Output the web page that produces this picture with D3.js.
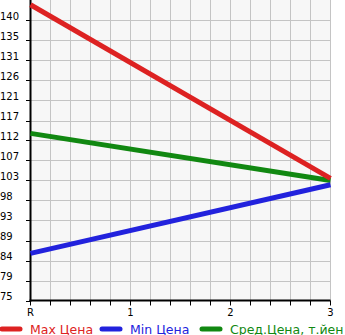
<!DOCTYPE html>
<html>
<head>
<meta charset="utf-8">
<script src="https://cdn.jsdelivr.net/npm/d3@7"></script>
<style>
  body { margin: 0; background: #fff; }
  svg { display: block; font-family: "DejaVu Sans", Verdana, sans-serif; }
</style>
</head>
<body>
<div id="chart"></div>
<script>
(function(){

  var width = 345, height = 335;

  // data
  var categories = ["R", "1", "2", "3"];
  var xPositions = [0, 3];          // data points at R and 3
  var maxPrice = [144, 103.5];
  var minPrice = [86, 102];
  var avgPrice = [114, 103];
  var yMin = 75, yMax = 145;
  var legendLabels = ["Max Цена", "Min Цена", "Сред.Цена, т.йен"];
  var colors = ["#dd2222", "#2222dd", "#118811"];

  var x = d3.scaleLinear().domain([0, 3]).range([30.5, 330.5]);
  var y = d3.scaleLinear().domain([yMin, yMax]).range([300.5, 0.5]);

  var svg = d3.select("#chart").append("svg")
      .attr("width", width)
      .attr("height", height);

  // plot background
  svg.append("rect")
      .attr("x", x(0)).attr("y", 0)
      .attr("width", x(3) - x(0)).attr("height", y(yMin))
      .attr("fill", "#f7f7f7");

  // grid
  var yStep = (yMax - yMin) / 15;
  var yTicks = d3.range(0, 15).map(function(i){ return yMin + i * yStep; });
  var xTicks = d3.range(0, 16).map(function(i){ return i / 5; });

  svg.append("g").selectAll("line")
      .data(yTicks.slice(1))
    .enter().append("line")
      .attr("x1", x(0)).attr("x2", x(3))
      .attr("y1", function(d){ return Math.round(y(d)) + 0.5; })
      .attr("y2", function(d){ return Math.round(y(d)) + 0.5; })
      .attr("stroke", "#c4c4c4");

  svg.append("g").selectAll("line")
      .data(xTicks.slice(1))
    .enter().append("line")
      .attr("y1", 0).attr("y2", y(yMin))
      .attr("x1", function(d){ return x(d); })
      .attr("x2", function(d){ return x(d); })
      .attr("stroke", "#c4c4c4");

  // y ticks + labels
  var yAxis = svg.append("g");
  yAxis.selectAll("line")
      .data(yTicks)
    .enter().append("line")
      .attr("x1", 26).attr("x2", x(0))
      .attr("y1", function(d){ return Math.round(y(d)) + 0.5; })
      .attr("y2", function(d){ return Math.round(y(d)) + 0.5; })
      .attr("stroke", "#000");
  yAxis.selectAll("text")
      .data(yTicks)
    .enter().append("text")
      .attr("x", 0)
      .attr("y", function(d){ return y(d) - 1; })
      .attr("font-size", 10)
      .attr("fill", "#000")
      .text(function(d){ return Math.floor(d + 1e-6); });

  // x ticks + labels
  var xAxis = svg.append("g");
  xAxis.selectAll("line")
      .data(xTicks)
    .enter().append("line")
      .attr("x1", function(d){ return x(d); })
      .attr("x2", function(d){ return x(d); })
      .attr("y1", y(yMin)).attr("y2", y(yMin) + 5)
      .attr("stroke", "#000");
  xAxis.selectAll("text")
      .data(categories)
    .enter().append("text")
      .attr("x", function(d, i){ return x(i); })
      .attr("y", 316)
      .attr("text-anchor", "middle")
      .attr("font-size", 10)
      .attr("fill", "#000")
      .text(function(d){ return d; });

  // axis lines
  svg.append("line")
      .attr("x1", x(0)).attr("x2", x(0))
      .attr("y1", 0).attr("y2", y(yMin) + 1)
      .attr("stroke", "#000").attr("stroke-width", 2);
  svg.append("line")
      .attr("x1", x(0) - 1).attr("x2", x(3))
      .attr("y1", y(yMin)).attr("y2", y(yMin))
      .attr("stroke", "#000").attr("stroke-width", 2);

  // series
  var line = d3.line()
      .x(function(d){ return x(d[0]); })
      .y(function(d){ return y(d[1]); });

  var series = [maxPrice, minPrice, avgPrice];
  // draw avg, min, then max on top
  [2, 1, 0].forEach(function(k){
    svg.append("path")
        .datum(xPositions.map(function(p, i){ return [p, series[k][i]]; }))
        .attr("d", line)
        .attr("fill", "none")
        .attr("stroke", colors[k])
        .attr("stroke-width", 5);
  });

  // legend
  var legendX = [0, 100, 200];
  var legend = svg.append("g").selectAll("g")
      .data(legendLabels)
    .enter().append("g")
      .attr("transform", function(d, i){ return "translate(" + legendX[i] + ",329)"; });
  legend.append("line")
      .attr("x1", 2).attr("x2", 20)
      .attr("y1", 0).attr("y2", 0)
      .attr("stroke", function(d, i){ return colors[i]; })
      .attr("stroke-width", 5)
      .attr("stroke-linecap", "round");
  legend.append("text")
      .attr("x", 30)
      .attr("y", 4.5)
      .attr("font-size", 12.5)
      .attr("fill", function(d, i){ return colors[i]; })
      .text(function(d){ return d; });

})();
</script>
</body>
</html>
